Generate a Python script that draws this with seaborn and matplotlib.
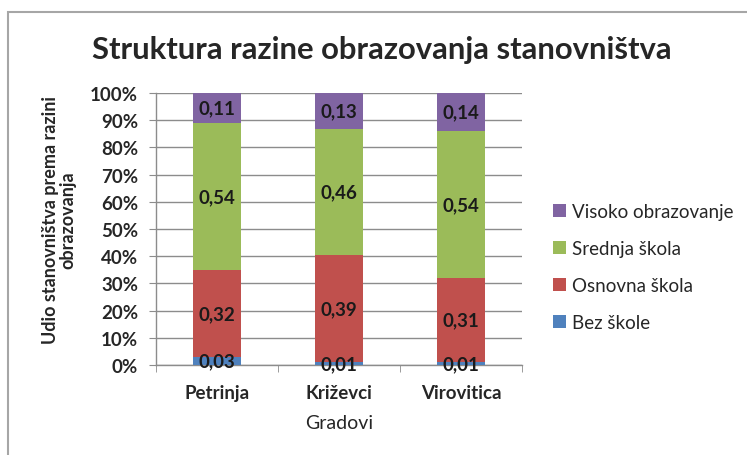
import numpy as np
import pandas as pd
import matplotlib
matplotlib.use("Agg")
import matplotlib.pyplot as plt
from matplotlib.patches import Patch, Rectangle
import seaborn as sns

# podaci
gradovi = ["Petrinja", "Križevci", "Virovitica"]
razine = ["Bez škole", "Osnovna škola", "Srednja škola", "Visoko obrazovanje"]
bez_skole = [0.03, 0.01, 0.01]
osnovna = [0.32, 0.39, 0.31]
srednja = [0.54, 0.46, 0.54]
visoko = [0.11, 0.13, 0.14]
boje = ["#4F81BD", "#C0504D", "#9BBB59", "#8064A2"]

sns.set_style("white")
plt.rcParams["font.family"] = ["Lato", "DejaVu Sans"]

df = pd.DataFrame({"grad": gradovi, razine[0]: bez_skole, razine[1]: osnovna,
                   razine[2]: srednja, razine[3]: visoko})
vals = df[razine].to_numpy(dtype=float)
shares = vals / vals.sum(axis=1, keepdims=True)
cum = shares.cumsum(axis=1)

fig = plt.figure(figsize=(7.47, 4.56), dpi=100)
fig.patches.append(Rectangle((7.5 / 747, -0.1), 1.2, 1.1 - 12.5 / 456, transform=fig.transFigure,
                             fill=False, edgecolor="#a6a6a6", linewidth=1.5))
ax = fig.add_axes([156 / 747, 90 / 456, 366 / 747, 272 / 456])

# naslagani stupci: crta se kumulativ od najvišeg prema dolje
for i in range(len(razine) - 1, -1, -1):
    d = pd.DataFrame({"grad": gradovi, "v": cum[:, i]})
    sns.barplot(data=d, x="grad", y="v", color=boje[i], width=0.39, ax=ax,
                saturation=1, edgecolor="none", linewidth=0, zorder=3)

for j in range(len(gradovi)):
    for i in range(len(razine)):
        yc = cum[j, i] - shares[j, i] / 2
        ax.text(j, yc, f"{vals[j, i]:.2f}".replace(".", ","), ha="center", va="center",
                fontsize=13.5, fontweight="bold", color="#1a1a1a", zorder=5)

ax.set_ylim(0, 1)
ax.set_xlim(-0.5, 2.5)
ax.set_yticks(np.arange(0, 1.01, 0.1))
ax.set_yticklabels([f"{int(round(t * 100))}%" for t in np.arange(0, 1.01, 0.1)])
ax.yaxis.grid(True, color="#8c8c8c", linewidth=1, zorder=0)
ax.set_axisbelow(True)
ax.xaxis.grid(False)
for s in ["top", "right"]:
    ax.spines[s].set_visible(False)
for s in ["left", "bottom"]:
    ax.spines[s].set_color("#8c8c8c")
    ax.spines[s].set_linewidth(1)
ax.tick_params(axis="y", length=5, color="#8c8c8c", left=True, labelsize=13.5, pad=8)
ax.tick_params(axis="x", which="major", length=0, labelsize=13.5, pad=14)
ax.set_xticks([-0.5, 0.5, 1.5, 2.5], minor=True)
ax.tick_params(axis="x", which="minor", length=5, color="#8c8c8c", bottom=True)
for lab in ax.get_xticklabels() + ax.get_yticklabels():
    lab.set_fontweight("bold")
ax.set_xlabel("Gradovi", fontsize=14, labelpad=9)
ax.set_ylabel("")

fig.text(59 / 747, 1 - 220 / 456, "Udio stanovništva prema razini\nobrazovanja", rotation=90,
         ha="center", va="center", multialignment="center", fontsize=13,
         fontweight="bold", linespacing=1.0)
fig.text(382 / 747, 1 - 59 / 456, "Struktura razine obrazovanja stanovništva", ha="center",
         va="baseline", fontsize=22.3, fontweight="bold")

handles = [Patch(facecolor=boje[i], edgecolor="none", label=razine[i]) for i in range(3, -1, -1)]
fig.legend(handles=handles, loc="center left", bbox_to_anchor=(536 / 747, 1 - 268 / 456),
           frameon=False, prop={"size": 13.5}, handlelength=0.7,
           handleheight=0.7, handletextpad=0.3, labelspacing=1.07)

fig.savefig("out.png", dpi=100)
